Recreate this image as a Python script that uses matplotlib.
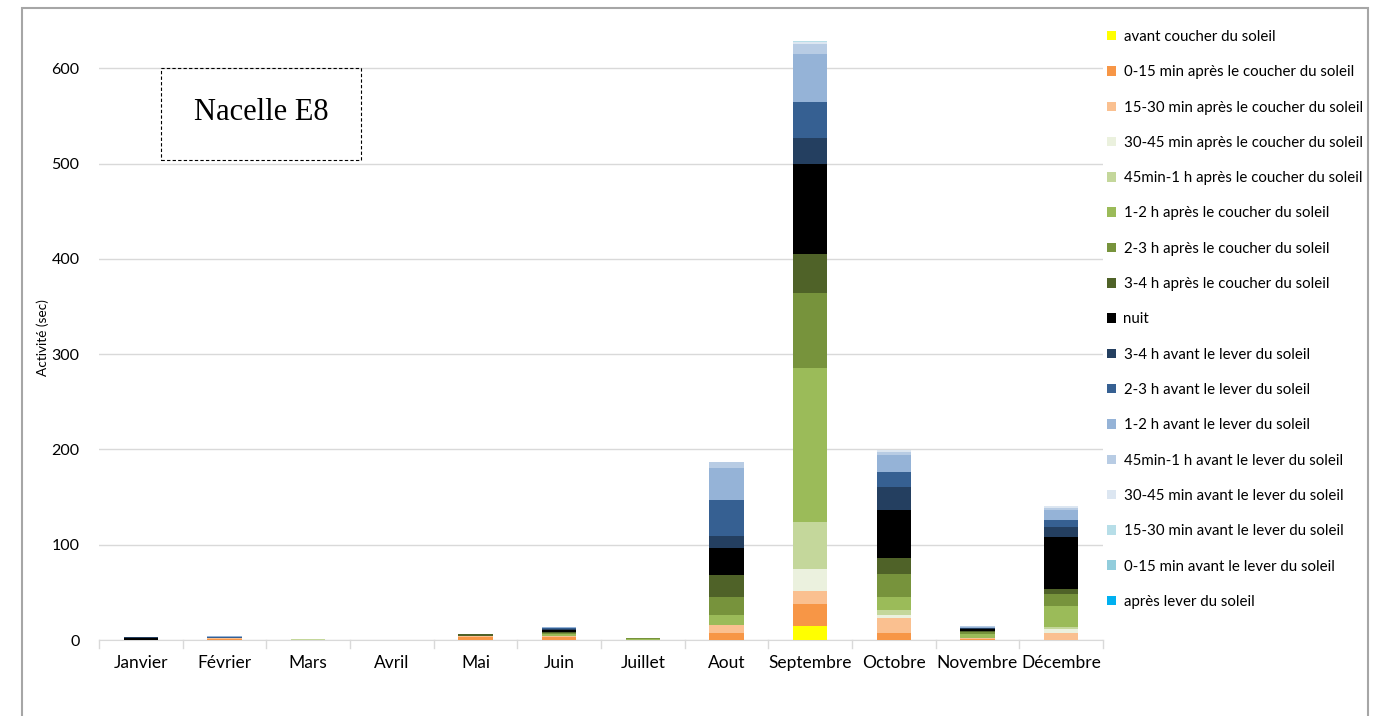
import matplotlib.pyplot as plt
import matplotlib.patches as mpatches
import numpy as np

months = ["Janvier", "Février", "Mars", "Avril", "Mai", "Juin", "Juillet",
          "Aout", "Septembre", "Octobre", "Novembre", "Décembre"]

series_names = [
    "avant coucher du soleil",
    "0-15 min après le coucher du soleil",
    "15-30 min après le coucher du soleil",
    "30-45 min après le coucher du soleil",
    "45min-1 h après le coucher du soleil",
    "1-2 h après le coucher du soleil",
    "2-3 h après le coucher du soleil",
    "3-4 h après le coucher du soleil",
    "nuit",
    "3-4 h avant le lever du soleil",
    "2-3 h avant le lever du soleil",
    "1-2 h avant le lever du soleil",
    "45min-1 h avant le lever du soleil",
    "30-45 min avant le lever du soleil",
    "15-30 min avant le lever du soleil",
    "0-15 min avant le lever du soleil",
    "après lever du soleil",
]

colors = ["#FFFF00", "#F79646", "#FAC090", "#EBF1DE", "#C4D79B", "#9BBB59",
          "#77933C", "#4F6228", "#000000", "#243F60", "#366092", "#95B3D7",
          "#B8CCE4", "#DCE6F1", "#B7DEE8", "#92CDDC", "#00B0F0"]

# one list per month, in series order (bottom -> top)
janvier   = [0, 0, 0, 0, 0, 0, 0, 0, 2, 1, 0, 0.5, 0, 0, 0, 0, 0]
fevrier   = [0, 1, 1.5, 0, 0, 0, 0, 0, 0, 0, 1, 0.5, 0, 0, 0, 0, 0]
mars      = [0, 0, 0, 0, 1, 0, 0, 0, 0, 0, 0, 0, 0, 0, 0.5, 0, 0]
avril     = [0] * 17
mai       = [0, 3, 1.5, 0, 0, 0, 0, 1.5, 0, 0, 0, 0, 0, 0, 0, 0, 0]
juin      = [0, 3.5, 1, 0, 0, 1.5, 1.5, 1, 2.5, 1, 0.5, 1, 0.5, 0, 0, 0, 0]
juillet   = [0, 0, 0, 0, 0, 1, 1.5, 0, 0, 0, 0, 0, 0, 0, 0, 0, 0]
aout      = [0, 7, 9, 0, 0, 10.5, 19, 23, 28, 13, 37, 34, 6, 0, 0, 0, 0]
septembre = [15, 22.4, 14.3, 22.5, 50, 161, 79, 40.6, 95, 27.3, 38, 50, 10.6, 1.5, 1, 0, 0]
octobre   = [0, 7, 16.4, 2.8, 5.3, 13.3, 24.4, 16.5, 50.7, 23.8, 15.7, 18, 3.5, 2.5, 0, 0, 0]
novembre  = [0, 1.5, 0.5, 0, 0, 4, 2, 1, 2.5, 1, 0.5, 1, 0.5, 0, 0, 0, 0]
decembre  = [0, 0, 7.7, 3.5, 2.8, 21.7, 12.6, 5.2, 55, 9.8, 7.7, 10.5, 2.5, 1.7, 0, 0, 0]

data = np.array([janvier, fevrier, mars, avril, mai, juin, juillet, aout,
                 septembre, octobre, novembre, decembre]).T

fig = plt.figure(figsize=(13.8, 7.16), dpi=100)
plt.rcParams['font.family'] = ['Lato', 'DejaVu Sans']
W, H = 1380, 716
ax = fig.add_axes([99 / W, 1 - 640 / H, (1103 - 99) / W, (640 - 35) / H])

x = np.arange(len(months))
bottom = np.zeros(len(months))
handles = []
for i in range(len(series_names)):
    b = ax.bar(x, data[i], 0.41, bottom=bottom, color=colors[i],
               label=series_names[i], zorder=3)
    handles.append(b)
    bottom = bottom + data[i]

ax.set_xlim(-0.5, len(months) - 0.5)
ax.set_ylim(0, 635)
ax.set_yticks([0, 100, 200, 300, 400, 500, 600])
ax.yaxis.grid(True, color="#D9D9D9", linewidth=1, zorder=0)
ax.set_xticks(x)
ax.set_xticklabels(months, fontsize=12.5)
ax.tick_params(axis="y", length=0, labelsize=11.5, pad=14)
ax.tick_params(axis="x", length=0, pad=11)
for s in ["top", "right", "left"]:
    ax.spines[s].set_visible(False)
ax.spines["bottom"].set_color("#D9D9D9")
# category separator ticks
for k in range(len(months) + 1):
    ax.plot([k - 0.5, k - 0.5], [0, -8], color="#D9D9D9", lw=1, clip_on=False)
ax.set_ylabel("Activité (sec)", fontsize=9.8)
ax.yaxis.set_label_coords(-50 / 1004, 0.5)

# title box
fig.text(261 / W, 1 - 113 / H, "Nacelle E8", fontsize=22, family="Liberation Serif",
         ha="center", va="center", zorder=5)
fig.patches.append(mpatches.Rectangle((161 / W, 1 - 160 / H), 200 / W, 92 / H,
                                      transform=fig.transFigure, fill=False,
                                      edgecolor="black", lw=0.8, ls=(0, (3, 2))))

# outer border
fig.patches.append(mpatches.Rectangle((22 / W, -0.05), (1368 - 22) / W, 1.05 - 8 / H,
                                      transform=fig.transFigure, fill=False,
                                      edgecolor="#A6A6A6", lw=1.5))

leg = fig.legend(handles=handles, loc="upper left",
                 bbox_to_anchor=(1101 / W, 1 - 24 / H), frameon=False,
                 fontsize=10.8, handlelength=0.6, handleheight=0.6,
                 handletextpad=0.5, labelspacing=1.42, borderaxespad=0)

fig.savefig("out.png", dpi=100)
